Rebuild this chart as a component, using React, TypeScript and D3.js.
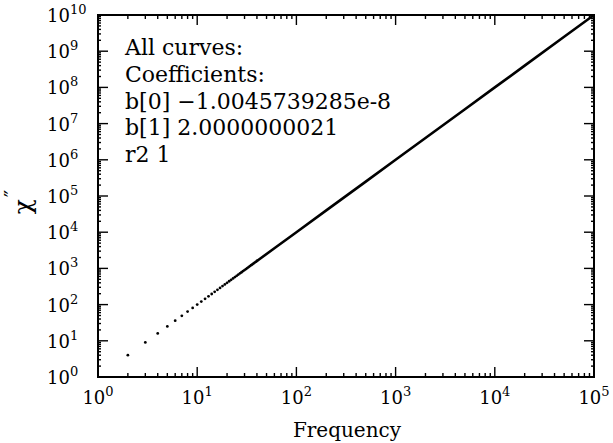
import React, { useEffect, useRef } from 'react';
import * as d3 from 'd3';

// sparse points at low frequency (drawn as dots)
const dotFreq = [2, 3, 4, 5, 6, 7, 8, 9, 10, 11, 12, 13, 14, 15, 16, 17, 18, 19, 20,
  21, 22, 23, 24, 25, 26, 27, 28, 29, 30, 31, 32, 33, 34, 35, 36, 37, 38, 39, 40];
const dotChi = [4, 9, 16, 25, 36, 49, 64, 81, 100, 121, 144, 169, 196, 225, 256, 289, 324, 361, 400,
  441, 484, 529, 576, 625, 676, 729, 784, 841, 900, 961, 1024, 1089, 1156, 1225, 1296, 1369, 1444, 1521, 1600];

// dense part of the curve (points merge into a solid line)
const lineFreq = [40, 60, 100, 200, 500, 1000, 2000, 5000, 10000, 20000, 50000, 100000];
const lineChi = [1600, 3600, 1e4, 4e4, 2.5e5, 1e6, 4e6, 2.5e7, 1e8, 4e8, 2.5e9, 1e10];

const xTickExp = [0, 1, 2, 3, 4, 5];
const yTickExp = [0, 1, 2, 3, 4, 5, 6, 7, 8, 9, 10];

const notes = [
  'All curves:',
  'Coefficients:',
  'b[0] \u22121.0045739285e-8',
  'b[1] 2.0000000021',
  'r2 1',
];

const FONT = '"DejaVu Serif", "Liberation Serif", serif';

export default function App() {
  const ref = useRef<SVGSVGElement>(null);

  useEffect(() => {
    const svg = d3.select(ref.current);
    svg.selectAll('*').remove();

    const left = 98, right = 594, top = 15, bottom = 377;

    const x = d3.scaleLog().domain([1, 1e5]).range([left, right]);
    const y = d3.scaleLog().domain([1, 1e10]).range([bottom, top]);

    // minor tick values
    const minorX: number[] = [];
    xTickExp.slice(0, -1).forEach(e => { for (let k = 2; k < 10; k++) minorX.push(k * Math.pow(10, e)); });
    const minorY: number[] = [];
    yTickExp.slice(0, -1).forEach(e => { for (let k = 2; k < 10; k++) minorY.push(k * Math.pow(10, e)); });

    const ticks = svg.append('g').attr('stroke', '#000').attr('stroke-width', 1.4);

    // x ticks, bottom and top, pointing inward
    const xt = (vals: number[], len: number) => {
      ticks.selectAll(null).data(vals).enter().append('line')
        .attr('x1', d => x(d)).attr('x2', d => x(d))
        .attr('y1', bottom).attr('y2', bottom - len);
      ticks.selectAll(null).data(vals).enter().append('line')
        .attr('x1', d => x(d)).attr('x2', d => x(d))
        .attr('y1', top).attr('y2', top + len);
    };
    xt(xTickExp.map(e => Math.pow(10, e)), 10);
    xt(minorX, 4);

    // y ticks, left and right
    const yt = (vals: number[], len: number) => {
      ticks.selectAll(null).data(vals).enter().append('line')
        .attr('y1', d => y(d)).attr('y2', d => y(d))
        .attr('x1', left).attr('x2', left + len);
      ticks.selectAll(null).data(vals).enter().append('line')
        .attr('y1', d => y(d)).attr('y2', d => y(d))
        .attr('x1', right).attr('x2', right - len);
    };
    yt(yTickExp.map(e => Math.pow(10, e)), 10);
    yt(minorY, 3);

    // frame
    svg.append('rect')
      .attr('x', left).attr('y', top)
      .attr('width', right - left).attr('height', bottom - top)
      .attr('fill', 'none').attr('stroke', '#000').attr('stroke-width', 2);

    // x tick labels
    const xl = svg.append('g').attr('font-family', FONT).attr('font-size', 18).attr('fill', '#000');
    xTickExp.forEach(e => {
      const t = xl.append('text').attr('x', x(Math.pow(10, e))).attr('y', 404).attr('text-anchor', 'middle');
      t.append('tspan').text('10');
      t.append('tspan').attr('font-size', 13).attr('dy', -8).text(String(e));
    });

    // y tick labels
    const yl = svg.append('g').attr('font-family', FONT).attr('font-size', 18).attr('fill', '#000');
    yTickExp.forEach(e => {
      const t = yl.append('text').attr('x', 47).attr('y', y(Math.pow(10, e)) + 7);
      t.append('tspan').text('10');
      t.append('tspan').attr('font-size', 13).attr('dy', -8).text(String(e));
    });

    // data: line + dots
    const line = d3.line<number>()
      .x((d, i) => x(lineFreq[i]))
      .y(d => y(d));
    svg.append('path')
      .attr('d', line(lineChi))
      .attr('fill', 'none').attr('stroke', '#000').attr('stroke-width', 2.6);

    svg.append('g').selectAll('circle').data(dotChi).enter().append('circle')
      .attr('cx', (d, i) => x(dotFreq[i]))
      .attr('cy', d => y(d))
      .attr('r', 1.4)
      .attr('fill', '#000');

    // annotation
    const ann = svg.append('g').attr('font-family', FONT).attr('font-size', 22).attr('fill', '#000');
    notes.forEach((s, i) => {
      ann.append('text').attr('x', 125).attr('y', 55 + i * 26.8).text(s);
    });

    // axis titles
    svg.append('text')
      .attr('x', 347).attr('y', 437)
      .attr('text-anchor', 'middle')
      .attr('font-family', FONT).attr('font-size', 20)
      .text('Frequency');

    const yt2 = svg.append('text')
      .attr('transform', 'translate(31,202) rotate(-90)')
      .attr('text-anchor', 'middle')
      .attr('font-family', FONT).attr('font-size', 25);
    yt2.append('tspan').text('\u03c7');
    yt2.append('tspan').attr('font-size', 20).attr('dx', 2).attr('dy', -12).text('\u2033');
  }, []);

  return (
    <svg ref={ref} width={613} height={443}
      style={{ position: 'absolute', left: 0, top: 0, background: '#fff' }} />
  );
}
